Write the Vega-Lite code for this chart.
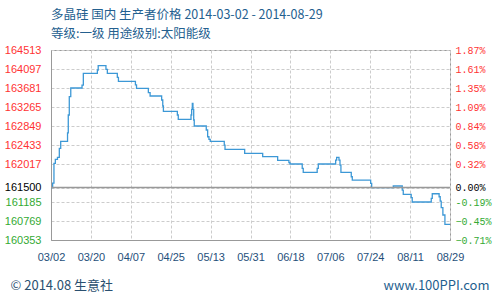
{
  "$schema": "https://vega.github.io/schema/vega-lite/v6.json",
  "width": 399,
  "height": 190,
  "autosize": {"type": "none"},
  "padding": {"left": 51, "top": 50, "right": 50, "bottom": 60},
  "background": "white",
  "title": {
    "text": "多晶硅 国内 生产者价格 2014-03-02 - 2014-08-29",
    "subtitle": "等级:一级 用途级别:太阳能级",
    "anchor": "start",
    "frame": "group",
    "font": "Noto Sans CJK SC",
    "fontSize": 12.5,
    "fontWeight": "normal",
    "color": "#24608f",
    "subtitleFont": "Noto Sans CJK SC",
    "subtitleFontSize": 12.5,
    "subtitleColor": "#24608f",
    "subtitlePadding": 6,
    "offset": 4
  },
  "data": {
    "values": [
      {"date": "2014-03-02T00:00:00Z", "price": 161500},
      {"date": "2014-03-02T18:00:00Z", "price": 161600},
      {"date": "2014-03-03T08:00:00Z", "price": 162030},
      {"date": "2014-03-03T23:00:00Z", "price": 162120},
      {"date": "2014-03-04T22:00:00Z", "price": 162160},
      {"date": "2014-03-05T18:00:00Z", "price": 162360},
      {"date": "2014-03-06T09:00:00Z", "price": 162513},
      {"date": "2014-03-09T11:00:00Z", "price": 162700},
      {"date": "2014-03-09T19:00:00Z", "price": 163090},
      {"date": "2014-03-10T06:00:00Z", "price": 163490},
      {"date": "2014-03-10T22:00:00Z", "price": 163681},
      {"date": "2014-03-16T00:00:00Z", "price": 163746},
      {"date": "2014-03-16T14:00:00Z", "price": 164003},
      {"date": "2014-03-22T22:00:00Z", "price": 164075},
      {"date": "2014-03-23T07:00:00Z", "price": 164170},
      {"date": "2014-03-26T19:00:00Z", "price": 164090},
      {"date": "2014-03-27T10:00:00Z", "price": 164003},
      {"date": "2014-03-31T22:00:00Z", "price": 163915},
      {"date": "2014-04-01T10:00:00Z", "price": 163828},
      {"date": "2014-04-09T02:00:00Z", "price": 163750},
      {"date": "2014-04-09T14:00:00Z", "price": 163674},
      {"date": "2014-04-14T22:00:00Z", "price": 163578},
      {"date": "2014-04-15T17:00:00Z", "price": 163506},
      {"date": "2014-04-20T22:00:00Z", "price": 163418},
      {"date": "2014-04-21T10:00:00Z", "price": 163287},
      {"date": "2014-04-21T17:00:00Z", "price": 163170},
      {"date": "2014-04-28T00:00:00Z", "price": 163090},
      {"date": "2014-04-28T10:00:00Z", "price": 162995},
      {"date": "2014-05-04T04:00:00Z", "price": 163090},
      {"date": "2014-05-04T11:00:00Z", "price": 163214},
      {"date": "2014-05-04T18:00:00Z", "price": 163346},
      {"date": "2014-05-05T01:00:00Z", "price": 163214},
      {"date": "2014-05-05T09:00:00Z", "price": 162980},
      {"date": "2014-05-05T15:00:00Z", "price": 162849},
      {"date": "2014-05-11T01:00:00Z", "price": 162761},
      {"date": "2014-05-11T16:00:00Z", "price": 162614},
      {"date": "2014-05-12T06:00:00Z", "price": 162557},
      {"date": "2014-05-12T20:00:00Z", "price": 162513},
      {"date": "2014-05-19T04:00:00Z", "price": 162432},
      {"date": "2014-05-19T12:00:00Z", "price": 162338},
      {"date": "2014-05-28T09:00:00Z", "price": 162250},
      {"date": "2014-06-05T12:00:00Z", "price": 162177},
      {"date": "2014-06-12T06:00:00Z", "price": 162097},
      {"date": "2014-06-17T08:00:00Z", "price": 162045},
      {"date": "2014-06-17T19:00:00Z", "price": 162017},
      {"date": "2014-06-23T08:00:00Z", "price": 161922},
      {"date": "2014-06-23T19:00:00Z", "price": 161835},
      {"date": "2014-06-30T02:00:00Z", "price": 161922},
      {"date": "2014-06-30T14:00:00Z", "price": 162017},
      {"date": "2014-07-08T10:00:00Z", "price": 162104},
      {"date": "2014-07-08T21:00:00Z", "price": 162163},
      {"date": "2014-07-09T22:00:00Z", "price": 162104},
      {"date": "2014-07-10T09:00:00Z", "price": 161994},
      {"date": "2014-07-10T19:00:00Z", "price": 161835},
      {"date": "2014-07-15T11:00:00Z", "price": 161738},
      {"date": "2014-07-15T22:00:00Z", "price": 161666},
      {"date": "2014-07-24T05:00:00Z", "price": 161594},
      {"date": "2014-07-24T16:00:00Z", "price": 161500},
      {"date": "2014-08-03T10:00:00Z", "price": 161535},
      {"date": "2014-08-07T11:00:00Z", "price": 161447},
      {"date": "2014-08-07T22:00:00Z", "price": 161353},
      {"date": "2014-08-11T12:00:00Z", "price": 161280},
      {"date": "2014-08-11T23:00:00Z", "price": 161185},
      {"date": "2014-08-20T13:00:00Z", "price": 161265},
      {"date": "2014-08-21T00:00:00Z", "price": 161366},
      {"date": "2014-08-24T02:00:00Z", "price": 161300},
      {"date": "2014-08-24T14:00:00Z", "price": 161206},
      {"date": "2014-08-25T01:00:00Z", "price": 161060},
      {"date": "2014-08-25T19:00:00Z", "price": 160900},
      {"date": "2014-08-26T17:00:00Z", "price": 160696},
      {"date": "2014-08-29T00:00:00Z", "price": 160696}
    ]
  },
  "layer": [
    {
      "mark": {"type": "line", "interpolate": "step-after", "color": "#3c98d6", "strokeWidth": 1.3},
      "encoding": {
        "x": {
          "field": "date",
          "type": "temporal",
          "scale": {
            "type": "utc",
            "domain": [
              {"year": 2014, "month": 3, "date": 2, "utc": true},
              {"year": 2014, "month": 8, "date": 29, "utc": true}
            ]
          },
          "axis": {
            "title": null,
            "values": [
              {"year": 2014, "month": 3, "date": 2, "utc": true},
              {"year": 2014, "month": 3, "date": 20, "utc": true},
              {"year": 2014, "month": 4, "date": 7, "utc": true},
              {"year": 2014, "month": 4, "date": 25, "utc": true},
              {"year": 2014, "month": 5, "date": 13, "utc": true},
              {"year": 2014, "month": 5, "date": 31, "utc": true},
              {"year": 2014, "month": 6, "date": 18, "utc": true},
              {"year": 2014, "month": 7, "date": 6, "utc": true},
              {"year": 2014, "month": 7, "date": 24, "utc": true},
              {"year": 2014, "month": 8, "date": 11, "utc": true},
              {"year": 2014, "month": 8, "date": 29, "utc": true}
            ],
            "format": "%m/%d",
            "labelFont": "Liberation Sans",
            "labelFontSize": 11,
            "labelColor": "#1f4f7a",
            "labelPadding": 11,
            "labelFlush": false,
            "labelOverlap": false,
            "ticks": false,
            "domainColor": "#999999",
            "grid": true,
            "gridColor": "#cccccc",
            "gridDash": [3, 2]
          }
        },
        "y": {
          "field": "price",
          "type": "quantitative",
          "scale": {"domain": [160353, 164513], "zero": false, "nice": false},
          "axis": {
            "values": [164513, 164097, 163681, 163265, 162849, 162433, 162017, 161500, 161185, 160769, 160353],
            "format": "d",
            "title": "© 2014.08 生意社",
            "titleAngle": 0,
            "titleAlign": "left",
            "titleBaseline": "middle",
            "titleX": -41,
            "titleY": 235,
            "titleFont": "Noto Sans CJK SC",
            "titleFontSize": 13,
            "titleFontWeight": "normal",
            "titleColor": "#2a4f6f",
            "labelFont": "Liberation Sans",
            "labelFontSize": 11,
            "labelPadding": 10,
            "labelColor": {
              "condition": [
                {"test": "datum.value > 161500", "value": "#ff3333"},
                {"test": "datum.value < 161500", "value": "#33aa33"}
              ],
              "value": "#000000"
            },
            "ticks": false,
            "domainColor": "#999999",
            "grid": true,
            "gridColor": "#cccccc",
            "gridDash": [3, 2]
          }
        }
      }
    },
    {
      "data": {"values": [{}]},
      "mark": {"type": "rule", "color": "#999999", "strokeWidth": 1.5},
      "encoding": {
        "y": {
          "datum": 161500,
          "type": "quantitative",
          "axis": {
            "orient": "right",
            "values": [164513, 164097, 163681, 163265, 162849, 162433, 162017, 161500, 161185, 160769, 160353],
            "labelExpr": "datum.value == 161185 ? '-0.19%' : format((datum.value / 161500 - 1) * 100, '.2f') + '%'",
            "title": "www.100PPI.com",
            "titleAngle": 0,
            "titleAlign": "right",
            "titleBaseline": "middle",
            "titleX": 39,
            "titleY": 235,
            "titleFont": "Noto Sans CJK SC",
            "titleFontSize": 13,
            "titleFontWeight": "normal",
            "titleColor": "#1f5f8f",
            "labelFont": "Liberation Mono",
            "labelFontSize": 10,
            "labelPadding": 5,
            "labelColor": {
              "condition": [
                {"test": "datum.value > 161500", "value": "#ff3333"},
                {"test": "datum.value < 161500", "value": "#33aa33"}
              ],
              "value": "#000000"
            },
            "ticks": false,
            "domain": false,
            "grid": false
          }
        }
      }
    }
  ],
  "resolve": {"axis": {"y": "independent"}},
  "config": {"view": {"stroke": "#999999", "strokeWidth": 1}}
}
